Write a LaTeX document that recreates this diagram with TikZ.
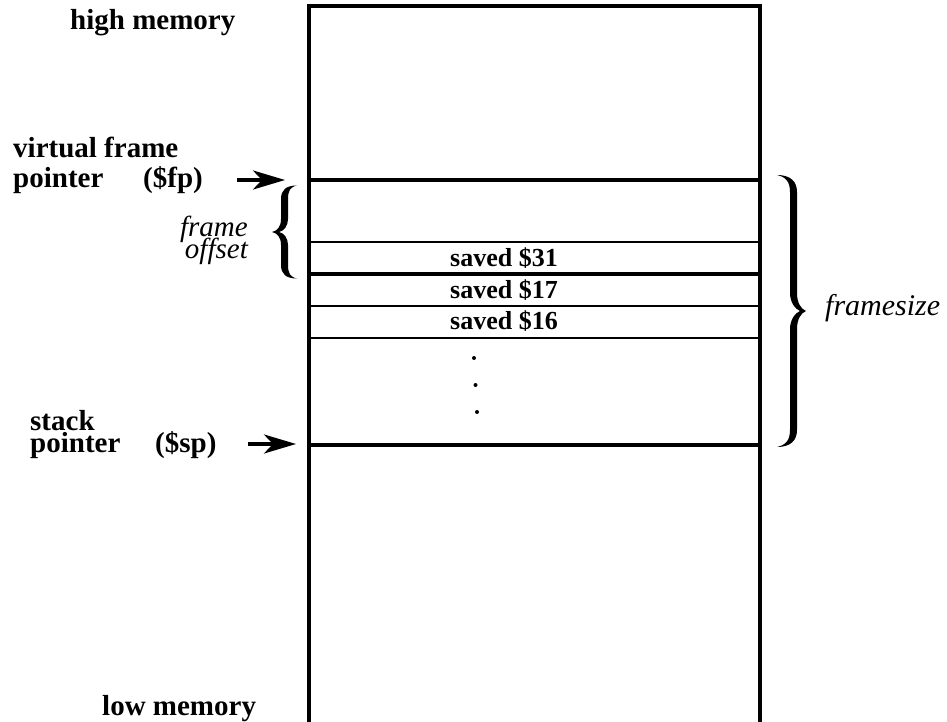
\documentclass[tikz,border=0pt]{standalone}
\usepackage{fontspec}
\setmainfont{Liberation Serif}
\usetikzlibrary{arrows.meta}
\begin{document}
\begin{tikzpicture}[x=1pt,y=-1pt,
  lbl/.style={font=\fontsize{29}{33}\selectfont\bfseries, inner sep=0pt, anchor=base west},
  cell/.style={font=\fontsize{26}{30}\selectfont\bfseries, inner sep=0pt, anchor=base},
  itl/.style={font=\fontsize{29}{33}\selectfont\itshape, inner sep=0pt},
  heavyrule/.style={line width=4pt},
  lightrule/.style={line width=2.2pt},
  ptr/.style={line width=3.6pt, -{Stealth[length=32pt,width=19pt,inset=9pt]}}]
\useasboundingbox (0,0) rectangle (947,722);
% box
\coordinate (tl) at (309,6);
\coordinate (br) at (760,726);
\draw[line width=3.6pt] (tl) rectangle (br);
% horizontal rules
\coordinate (fpL) at (309,180); \coordinate (fpR) at (760,180);
\coordinate (aL) at (309,242); \coordinate (aR) at (760,242);
\coordinate (bL) at (309,274); \coordinate (bR) at (760,274);
\coordinate (cL) at (309,306); \coordinate (cR) at (760,306);
\coordinate (dL) at (309,338); \coordinate (dR) at (760,338);
\coordinate (spL) at (309,445); \coordinate (spR) at (760,445);
\draw[heavyrule] (fpL) -- (fpR);
\draw[lightrule] (aL) -- (aR);
\draw[heavyrule] (bL) -- (bR);
\draw[lightrule] (cL) -- (cR);
\draw[lightrule] (dL) -- (dR);
\draw[heavyrule] (spL) -- (spR);
% cell texts
\node[cell] (s31) at (504,266) {saved \$31};
\node[cell] (s17) at (504,298) {saved \$17};
\node[cell] (s16) at (504,329) {saved \$16};
\fill (474,358) circle (2pt) (475.5,385) circle (2pt) (477,412) circle (2pt);
% labels
\node[lbl] (high) at (70,30) {high memory};
\node[lbl] (low) at (102,715) {low memory};
\node[lbl, align=left] (vfp) at (13,187) {virtual frame\\[-4pt]pointer};
\node[lbl] (fp) at (143,187) {(\$fp)};
\node[lbl, align=left] (st) at (30,452) {stack\\[-11pt]pointer};
\node[lbl] (sp) at (155,452) {(\$sp)};
% arrows
\coordinate (fpA) at (237,180);
\coordinate (fpB) at (285,180);
\coordinate (spA) at (248,444);
\coordinate (spB) at (296,444);
\draw[ptr] (fpA) -- (fpB);
\draw[ptr] (spA) -- (spB);
% left brace (frame offset)
\fill (297,185.5) .. controls (286,185.5) and (281,190) .. (281,199) -- (281,219)
  .. controls (281,227) and (277,231) .. (272,232)
  .. controls (277,233) and (281,237) .. (281,245) -- (281,265)
  .. controls (281,274) and (286,278.5) .. (297,278.5)
  .. controls (290,277) and (288,273) .. (288,265) -- (288,245)
  .. controls (288,238) and (284,233) .. (279,232)
  .. controls (284,231) and (288,226) .. (288,219) -- (288,199)
  .. controls (288,191) and (290,187) .. (297,185.5) -- cycle;
\node[itl, anchor=base east, align=right] (fo) at (248,258) {frame\\[-11pt]offset};
% right brace (framesize)
\fill (777,175) .. controls (790,175) and (797,181) .. (797,192) -- (797,293)
  .. controls (797,303) and (801,309) .. (806,311)
  .. controls (801,313) and (797,319) .. (797,329) -- (797,430)
  .. controls (797,441) and (790,447) .. (777,447)
  .. controls (786,445) and (790,440) .. (790,430) -- (790,329)
  .. controls (790,320) and (795,313) .. (800,311)
  .. controls (795,309) and (790,302) .. (790,293) -- (790,192)
  .. controls (790,182) and (786,177) .. (777,175) -- cycle;
\node[itl, anchor=base west, font=\fontsize{30}{33}\selectfont\itshape] (fs) at (825,315) {framesize};
\end{tikzpicture}
\end{document}
